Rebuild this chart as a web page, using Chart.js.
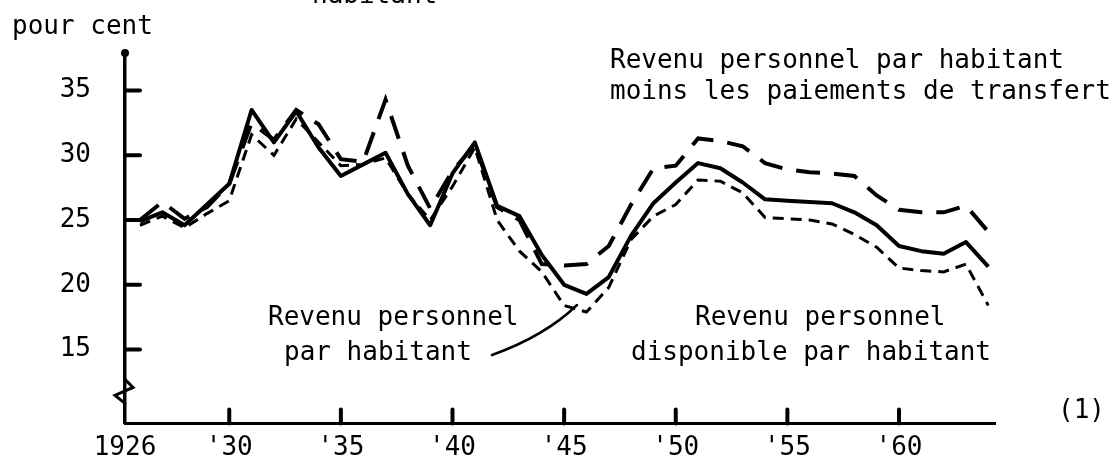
<!DOCTYPE html>
<html>
<head>
<meta charset="utf-8">
<script src="https://cdn.jsdelivr.net/npm/chart.js@4.4.1/dist/chart.umd.min.js"></script>
<style>
  body { margin: 0; background: #fff; }
  canvas { display: block; }
</style>
</head>
<body>
<canvas id="myChart" width="1120" height="473"></canvas>
<script>
// annual values
const years = [1926, 1927, 1928, 1929, 1930, 1931, 1932, 1933, 1934, 1935,
               1936, 1937, 1938, 1939, 1940, 1941, 1942, 1943, 1944, 1945,
               1946, 1947, 1948, 1949, 1950, 1951, 1952, 1953, 1954, 1955,
               1956, 1957, 1958, 1959, 1960, 1961, 1962, 1963, 1964];

// Revenu personnel par habitant (solid)
const revenuPerso = [24.9, 25.6, 24.6, 26.2, 27.8, 33.5, 31.0, 33.4, 30.6, 28.4,
                     29.3, 30.2, 27.0, 24.6, 28.6, 31.0, 26.1, 25.3, 22.3, 20.0,
                     19.3, 20.6, 23.8, 26.3, 27.9, 29.4, 29.0, 27.9, 26.6, 26.5,
                     26.4, 26.3, 25.6, 24.6, 23.0, 22.6, 22.4, 23.3, 21.4];

// ... moins les paiements de transfert (long dashes)
const moinsTransfert = [25.0, 26.4, 25.1, 26.0, 27.8, 32.5, 31.2, 33.5, 32.4, 29.7,
                        29.5, 34.3, 29.2, 25.9, 28.8, 30.8, 26.0, 25.0, 21.6, 21.5,
                        21.6, 23.0, 26.2, 29.0, 29.2, 31.3, 31.1, 30.7, 29.4, 28.9,
                        28.7, 28.6, 28.4, 26.9, 25.8, 25.6, 25.6, 26.1, 24.1];

// Revenu personnel disponible par habitant (short dashes)
const disponible = [24.6, 25.3, 24.4, 25.5, 26.5, 31.6, 30.0, 32.8, 31.0, 29.2,
                    29.3, 29.8, 27.0, 25.0, 27.6, 30.6, 25.0, 22.6, 21.0, 18.4,
                    17.9, 19.8, 23.5, 25.3, 26.2, 28.1, 28.0, 27.1, 25.2, 25.1,
                    25.0, 24.7, 23.9, 22.9, 21.3, 21.1, 21.0, 21.6, 18.4];

const xTickYears = [1930, 1935, 1940, 1945, 1950, 1955, 1960];
const xTickLabels = ['1926', "'30", "'35", "'40", "'45", "'50", "'55", "'60"];
const yTickValues = [15, 20, 25, 30, 35];

const xMin = 1925.33, xMax = 1964.3;
const yMin = 9.3, yMax = 37.9;

const FONT = '"DejaVu Sans Mono", "Liberation Mono", monospace';

const notes = [
    { text: 'pour cent', x: 12, y: 34 },
    { text: 'habitant', x: 312, y: 3 },
    { text: 'Revenu personnel par habitant', x: 610, y: 68 },
    { text: 'moins les paiements de transfert', x: 610, y: 99 },
    { text: 'Revenu personnel', x: 268, y: 325 },
    { text: 'par habitant', x: 284, y: 360 },
    { text: 'Revenu personnel', x: 695, y: 325 },
    { text: 'disponible par habitant', x: 631, y: 360 },
    { text: '(1)', x: 1058, y: 418 }
];

function toPoints(vals) {
    return vals.map((v, i) => ({ x: years[i], y: v }));
}

// inner tick marks, axis dot and break, annotation texts, leader line
const overlay = {
    id: 'overlay',
    afterDraw(chart) {
        const { ctx, scales: { x, y } } = chart;
        ctx.save();
        ctx.strokeStyle = '#000';
        ctx.fillStyle = '#000';
        ctx.lineCap = 'round';
        ctx.lineWidth = 4;
        yTickValues.forEach(v => {
            const py = y.getPixelForValue(v);
            ctx.beginPath();
            ctx.moveTo(x.left, py);
            ctx.lineTo(x.left + 15, py);
            ctx.stroke();
        });
        xTickYears.forEach(v => {
            const px = x.getPixelForValue(v);
            ctx.beginPath();
            ctx.moveTo(px, y.bottom);
            ctx.lineTo(px, y.bottom - 14);
            ctx.stroke();
        });
        ctx.beginPath();
        ctx.arc(x.left, y.top, 4, 0, Math.PI * 2);
        ctx.fill();

        // small break mark near the bottom of the y axis
        ctx.lineWidth = 3;
        ctx.beginPath();
        ctx.moveTo(x.left, y.bottom - 44);
        ctx.lineTo(x.left + 8, y.bottom - 36);
        ctx.lineTo(x.left - 10, y.bottom - 28);
        ctx.lineTo(x.left, y.bottom - 20);
        ctx.stroke();

        ctx.font = '26px ' + FONT;
        ctx.textBaseline = 'alphabetic';
        ctx.textAlign = 'left';
        notes.forEach(n => ctx.fillText(n.text, n.x, n.y));

        ctx.lineWidth = 2.5;
        ctx.beginPath();
        ctx.moveTo(492, 355);
        ctx.quadraticCurveTo(545, 336, 577, 305);
        ctx.stroke();
        ctx.restore();
    }
};

const ctx = document.getElementById('myChart').getContext('2d');

const myChart = new Chart(ctx, {
    type: 'line',
    data: {
        datasets: [{
            label: 'Revenu personnel par habitant',
            data: toPoints(revenuPerso),
            borderColor: '#000',
            borderWidth: 4,
            borderJoinStyle: 'round',
            pointRadius: 0,
            tension: 0,
            order: 0
        }, {
            label: 'Revenu personnel par habitant moins les paiements de transfert',
            data: toPoints(moinsTransfert),
            borderColor: '#000',
            borderWidth: 4,
            borderDash: [24, 14],
            pointRadius: 0,
            tension: 0,
            order: 1
        }, {
            label: 'Revenu personnel disponible par habitant',
            data: toPoints(disponible),
            borderColor: '#000',
            borderWidth: 3,
            borderDash: [11, 7],
            pointRadius: 0,
            tension: 0,
            order: 2
        }]
    },
    options: {
        responsive: false,
        animation: false,
        devicePixelRatio: 1,
        layout: { padding: { top: 53, right: 125, bottom: 0, left: 0 } },
        plugins: {
            legend: { display: false },
            tooltip: { enabled: false }
        },
        scales: {
            x: {
                type: 'linear',
                min: xMin,
                max: xMax,
                grid: { display: false, drawTicks: false },
                border: { display: true, color: '#000', width: 3 },
                afterBuildTicks: s => {
                    s.ticks = [{ value: xMin }].concat(xTickYears.map(v => ({ value: v })));
                },
                afterFit: s => { s.height = 40; },
                ticks: {
                    autoSkip: false,
                    maxRotation: 0,
                    padding: 9,
                    color: '#000',
                    font: { family: FONT, size: 26 },
                    callback: (v, i) => xTickLabels[i]
                }
            },
            y: {
                type: 'linear',
                min: yMin,
                max: yMax,
                grid: { display: false, drawTicks: false },
                border: { display: true, color: '#000', width: 3.5 },
                afterBuildTicks: s => {
                    s.ticks = yTickValues.map(v => ({ value: v }));
                },
                afterFit: s => { s.width = 125; },
                ticks: {
                    padding: 34,
                    color: '#000',
                    font: { family: FONT, size: 26 }
                }
            }
        }
    },
    plugins: [overlay]
});
</script>
</body>
</html>
